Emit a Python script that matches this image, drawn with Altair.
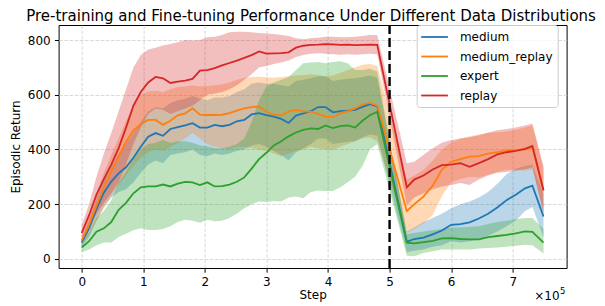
import altair as alt
import pandas as pd

# ---------------- data ----------------
STEPS = [0, 12000, 24000, 36000, 48000, 60000, 72000, 84000, 96000, 108000,
         120000, 132000, 144000, 156000, 168000, 180000, 192000, 204000, 216000, 228000,
         240000, 252000, 264000, 276000, 288000, 300000, 312000, 324000, 336000, 348000,
         360000, 372000, 384000, 396000, 408000, 420000, 432000, 444000, 456000, 468000,
         480000,
         528000, 540000, 555000, 570000, 585000, 600000, 615000, 630000, 645000, 660000,
         675000, 690000, 705000, 720000, 732000, 750000]

SERIES = ["medium", "medium_replay", "expert", "replay"]
COLORS = ["#1f77b4", "#ff7f0e", "#2ca02c", "#d62728"]

medium_mean = [60, 112, 182, 242, 283, 313, 335, 370, 410, 447, 460, 450, 475, 482, 488, 496, 480, 480, 490, 485,
               490, 503, 508, 528, 533, 526, 520, 512, 497, 524, 532, 540, 555, 555, 536, 540, 542, 545, 556, 566,
               557,
               63, 73, 78, 90, 104, 125, 127, 134, 148, 165, 188, 215, 235, 258, 268, 155]
medium_hi = [75, 140, 220, 290, 340, 385, 420, 460, 500, 540, 555, 550, 570, 580, 585, 595, 585, 580, 590, 590,
             595, 610, 620, 640, 645, 640, 640, 635, 630, 650, 655, 660, 668, 668, 650, 655, 658, 660, 665, 670,
             662,
             100, 115, 135, 150, 165, 185, 200, 210, 225, 245, 275, 310, 330, 340, 345, 235]
medium_lo = [45, 80, 140, 190, 225, 245, 255, 280, 315, 345, 360, 350, 380, 385, 390, 400, 380, 375, 385, 380,
             385, 395, 400, 415, 420, 410, 395, 380, 360, 390, 405, 420, 440, 440, 420, 425, 428, 430, 445, 455,
             450,
             25, 30, 35, 45, 50, 65, 60, 65, 72, 85, 100, 120, 140, 175, 190, 80]

medium_replay_mean = [68, 125, 195, 262, 318, 375, 428, 470, 492, 508, 508, 490, 505, 525, 532, 550, 527, 526, 526, 527,
                      533, 542, 550, 555, 557, 538, 527, 525, 538, 545, 538, 538, 530, 520, 518, 533, 540, 550, 565, 570,
                      560,
                      175, 200, 228, 268, 327, 355, 365, 374, 376, 385, 390, 397, 398, 400, 408, 252]
medium_replay_hi = [85, 160, 240, 315, 380, 440, 505, 560, 600, 612, 615, 610, 620, 628, 630, 635, 630, 632, 635, 638,
                    645, 655, 662, 665, 666, 664, 662, 665, 668, 670, 672, 675, 672, 668, 670, 680, 690, 700, 710, 712,
                    705,
                    290, 305, 325, 360, 400, 425, 440, 448, 455, 460, 463, 466, 472, 480, 488, 330]
medium_replay_lo = [52, 90, 140, 185, 230, 270, 305, 340, 370, 390, 400, 395, 410, 425, 440, 460, 440, 420, 410, 405,
                    402, 408, 410, 405, 400, 395, 385, 375, 385, 395, 400, 410, 405, 400, 398, 410, 420, 430, 440, 445,
                    430,
                    95, 110, 130, 160, 230, 280, 292, 300, 298, 308, 318, 326, 325, 322, 328, 175]

expert_mean = [42, 65, 100, 112, 135, 180, 205, 240, 262, 265, 265, 272, 265, 275, 282, 280, 270, 280, 265, 266,
               272, 282, 298, 330, 365, 388, 415, 430, 448, 462, 472, 477, 475, 488, 478, 485, 488, 480, 505, 525,
               538,
               60, 57, 62, 66, 75, 76, 73, 72, 72, 80, 84, 88, 94, 101, 99, 60]
expert_hi = [60, 95, 150, 175, 215, 280, 320, 365, 400, 420, 425, 435, 425, 430, 430, 425, 415, 412, 405, 405,
             410, 420, 440, 500, 580, 630, 645, 655, 665, 690, 715, 718, 720, 715, 720, 722, 715, 690, 690, 695,
             685,
             90, 95, 100, 105, 110, 115, 115, 118, 120, 128, 135, 140, 145, 150, 150, 110]
expert_lo = [25, 35, 50, 60, 60, 80, 92, 105, 112, 106, 106, 110, 120, 135, 143, 140, 132, 143, 138, 140,
             150, 165, 185, 200, 210, 208, 212, 210, 225, 228, 222, 245, 250, 248, 248, 262, 280, 300, 340, 400,
             420,
             12, 10, 22, 28, 35, 35, 35, 35, 38, 40, 42, 45, 48, 52, 50, 20]

replay_mean = [95, 160, 235, 292, 345, 405, 480, 560, 610, 645, 665, 660, 643, 648, 652, 658, 688, 690, 697, 707,
               716, 725, 735, 745, 758, 750, 751, 752, 755, 772, 779, 782, 783, 785, 784, 782, 783, 781, 782, 783,
               782,
               262, 290, 305, 327, 343, 345, 350, 337, 350, 365, 382, 390, 395, 402, 413, 250]
replay_hi = [125, 200, 300, 385, 460, 540, 620, 700, 745, 765, 772, 780, 785, 792, 800, 798, 800, 810, 812, 818,
             828, 830, 830, 828, 826, 824, 822, 818, 815, 806, 803, 806, 808, 812, 812, 810, 810, 812, 815, 818,
             818,
             350, 355, 380, 405, 425, 435, 440, 445, 452, 462, 470, 475, 480, 488, 495, 340]
replay_lo = [65, 115, 165, 205, 240, 280, 345, 420, 480, 530, 550, 545, 530, 540, 550, 560, 580, 600, 605, 610,
             620, 635, 655, 675, 700, 705, 712, 718, 725, 738, 745, 750, 752, 750, 748, 746, 748, 746, 748, 750,
             748,
             195, 225, 240, 255, 265, 270, 278, 270, 290, 305, 315, 318, 322, 328, 335, 165]

X_TICKS = [0, 100000, 200000, 300000, 400000, 500000, 600000, 700000]
Y_TICKS = [0, 200, 400, 600, 800]
SWITCH_STEP = [500000]

TITLE = "Pre-training and Fine-tuning Performance Under Different Data Distributions"

# ---------------- table ----------------
series_data = {
    "medium": (medium_mean, medium_lo, medium_hi),
    "medium_replay": (medium_replay_mean, medium_replay_lo, medium_replay_hi),
    "expert": (expert_mean, expert_lo, expert_hi),
    "replay": (replay_mean, replay_lo, replay_hi),
}
rows = []
for name in SERIES:
    mean, lo, hi = series_data[name]
    for s, m, l, h in zip(STEPS, mean, lo, hi):
        rows.append({"step": s, "series": name, "mean": m, "lo": l, "hi": h})
df = pd.DataFrame(rows)

W, H = 508, 243
FONT = "DejaVu Sans"

xscale = alt.Scale(domain=[-37500, 787500], nice=False, zero=False)
yscale = alt.Scale(domain=[-32.9, 854.8], nice=False, zero=False)
cscale = alt.Scale(domain=SERIES, range=COLORS)

x_axis = alt.Axis(values=X_TICKS, labelExpr="datum.value / 100000", title="Step",
                  labelPadding=4.5, titlePadding=2, labelFlush=False)
y_axis = alt.Axis(values=Y_TICKS, title="Episodic Return", titlePadding=5, labelPadding=4.2)

x_enc = alt.X("step:Q", scale=xscale, axis=x_axis)

base = alt.Chart(df)
layers = []
for name, col in zip(SERIES, COLORS):
    layers.append(
        base.transform_filter(alt.datum.series == name)
        .mark_area(color=col, opacity=0.3, strokeWidth=0)
        .encode(x=x_enc,
                y=alt.Y("lo:Q", scale=yscale, axis=y_axis),
                y2="hi:Q")
    )
for name in SERIES:
    layers.append(
        base.transform_filter(alt.datum.series == name)
        .mark_line(strokeWidth=1.8)
        .encode(x=x_enc,
                y=alt.Y("mean:Q", scale=yscale, axis=y_axis),
                color=alt.Color("series:N", scale=cscale,
                                legend=alt.Legend(title=None, orient="none",
                                                  legendX=358.1, legendY=0,
                                                  fillColor="rgba(255,255,255,0.8)",
                                                  strokeColor="#cccccc", cornerRadius=3,
                                                  padding=5, symbolType="M-1.25,0H3.2",
                                                  symbolSize=144, symbolStrokeWidth=1.8,
                                                  labelFont=FONT, labelFontSize=12,
                                                  labelColor="black", labelOffset=24.2,
                                                  rowPadding=6.5)))
    )

rule = alt.Chart(pd.DataFrame({"step": SWITCH_STEP})).mark_rule(
    color="black", strokeDash=[9, 4], strokeWidth=2.4
).encode(x=alt.X("step:Q", scale=xscale), y=alt.value(0), y2=alt.value(H))

title_text = alt.Chart(pd.DataFrame({"t": [TITLE]})).mark_text(
    font=FONT, fontSize=15, align="center", baseline="alphabetic", color="black"
).encode(text="t:N", x=alt.value(W / 2 - 1.5), y=alt.value(-4.3))

offset_main = alt.Chart(pd.DataFrame({"t": ["×10"]})).mark_text(
    font=FONT, fontSize=12, align="right", baseline="alphabetic", color="black"
).encode(text="t:N", x=alt.value(W - 7), y=alt.value(H + 32))
offset_exp = alt.Chart(pd.DataFrame({"t": ["5"]})).mark_text(
    font=FONT, fontSize=8.5, align="left", baseline="alphabetic", color="black"
).encode(text="t:N", x=alt.value(W - 6.5), y=alt.value(H + 26))

chart = alt.layer(*layers, rule, title_text, offset_main, offset_exp).properties(
    width=W, height=H,
    autosize=alt.AutoSizeParams(type="none"),
    padding={"left": 50.6, "top": 17, "right": 30, "bottom": 45},
).configure_view(stroke="black", strokeWidth=1).configure_axis(
    labelFont=FONT, labelFontSize=12, labelColor="black",
    titleFont=FONT, titleFontSize=12, titleColor="black", titleFontWeight="normal",
    tickColor="black", tickSize=4.2, tickWidth=1, domain=False,
    grid=True, gridColor="#cfcfcf", gridDash=[3.6, 1.6], gridWidth=0.8,
    labelOverlap=False, zindex=1,
)

chart.save("out.html", embed_options={"renderer": "svg", "actions": False})
